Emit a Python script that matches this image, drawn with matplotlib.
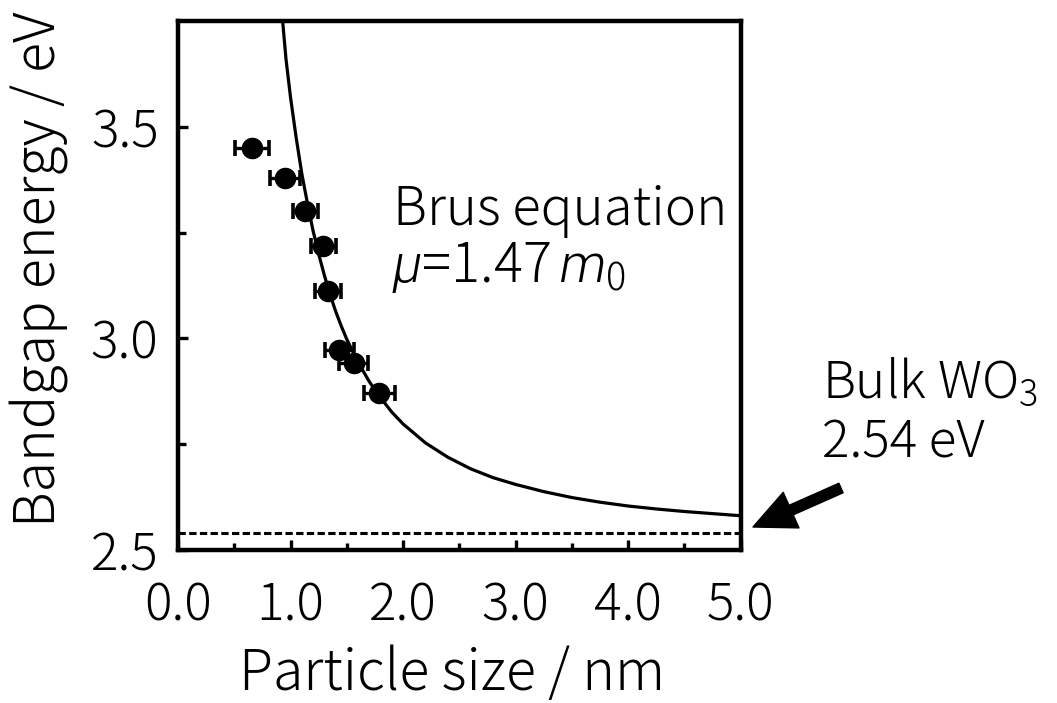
import matplotlib
matplotlib.use("Agg")
import matplotlib.pyplot as plt
from matplotlib.ticker import MultipleLocator, FixedLocator

plt.rcParams['font.family'] = ['Noto Sans CJK JP', 'DejaVu Sans']
plt.rcParams['font.weight'] = 'light'
plt.rcParams['mathtext.fontset'] = 'custom'
plt.rcParams['mathtext.rm'] = 'Noto Sans CJK JP:weight=light'
plt.rcParams['mathtext.it'] = 'Roboto:style=italic:weight=300'

# ---- data ----
size_nm = [0.656, 0.952, 1.130, 1.292, 1.337, 1.435, 1.560, 1.791]
gap_eV = [3.449, 3.378, 3.300, 3.219, 3.113, 2.972, 2.942, 2.871]
size_err = [0.15, 0.13, 0.11, 0.11, 0.115, 0.13, 0.13, 0.14]

curve_d = [0.93, 0.96, 1.00, 1.05, 1.10, 1.15, 1.20, 1.25, 1.30, 1.35, 1.40,
           1.45, 1.50, 1.60, 1.70, 1.80, 1.90, 2.00, 2.20, 2.40, 2.60, 2.80,
           3.00, 3.25, 3.50, 3.75, 4.00, 4.25, 4.50, 4.75, 5.00]
curve_E = [3.75, 3.66, 3.57, 3.475, 3.39, 3.32, 3.255, 3.20, 3.15, 3.105, 3.065,
           3.03, 2.998, 2.944, 2.898, 2.86, 2.826, 2.798, 2.753, 2.719, 2.692, 2.671,
           2.655, 2.638, 2.624, 2.613, 2.604, 2.597, 2.591, 2.586, 2.581]

bulk_gap = 2.54
x_ticks = [0, 1, 2, 3, 4, 5]
x_ticklabels = ['0.0', '1.0', '2.0', '3.0', '4.0', '5.0']
y_ticks = [2.5, 3.0, 3.5]
y_ticklabels = ['2.5', '3.0', '3.5']

W, H = 1057, 703
fig = plt.figure(figsize=(W / 100, H / 100), dpi=100)
ax = fig.add_axes([178 / W, 1 - 550 / H, (740.5 - 178) / W, (550 - 21) / H])

ax.plot(curve_d, curve_E, color='black', lw=2.3, solid_capstyle='butt')
ax.axhline(bulk_gap, color='black', lw=2.2, linestyle=(0, (2.4, 1.1)))
ax.errorbar(size_nm, gap_eV, xerr=size_err, fmt='o', color='black',
            markersize=14.5, elinewidth=2.4, capsize=6, capthick=2.6)

ax.set_xlim(0, 5)
ax.set_ylim(2.5, 3.75)
ax.xaxis.set_major_locator(FixedLocator(x_ticks))
ax.set_xticklabels(x_ticklabels)
ax.xaxis.set_minor_locator(MultipleLocator(0.5))
ax.yaxis.set_major_locator(FixedLocator(y_ticks))
ax.set_yticklabels(y_ticklabels)
ax.yaxis.set_minor_locator(FixedLocator([2.75, 3.25]))

for s in ax.spines.values():
    s.set_linewidth(3.2)
ax.tick_params(axis='both', which='both', direction='in', width=2.4,
               labelsize=37)
ax.tick_params(axis='x', which='major', length=7.2, pad=21)
ax.tick_params(axis='x', which='minor', length=4.8)
ax.tick_params(axis='y', which='major', length=7.5, pad=14)
ax.tick_params(axis='y', which='minor', length=5.5)

fig.text(452 / W, 1 - 690 / H, 'Particle size / nm', fontsize=40,
         ha='center', va='baseline')
fig.text(40 / W, 1 - 269 / H, 'Bandgap energy / eV', fontsize=40,
         ha='center', va='center', rotation=90)

fig.text(393 / W, 1 - 225 / H, 'Brus equation', fontsize=38,
         ha='left', va='baseline')
fig.text(392 / W, 1 - 282 / H, r'$\mu$=1.47$\,m_0$', fontsize=39,
         ha='left', va='baseline')
fig.text(822 / W, 1 - 398 / H, r'Bulk WO$_3$', fontsize=37,
         ha='left', va='baseline')
fig.text(822 / W, 1 - 458 / H, '2.54 eV', fontsize=37,
         ha='left', va='baseline')

ax.annotate('', xy=(753, H - 527), xycoords='figure pixels',
            xytext=(841, H - 488), textcoords='figure pixels',
            arrowprops=dict(arrowstyle='simple,head_length=30,head_width=28,tail_width=7.5',
                            mutation_scale=1, color='black', shrinkA=0, shrinkB=0),
            annotation_clip=False)

fig.savefig('out.png', dpi=100)
